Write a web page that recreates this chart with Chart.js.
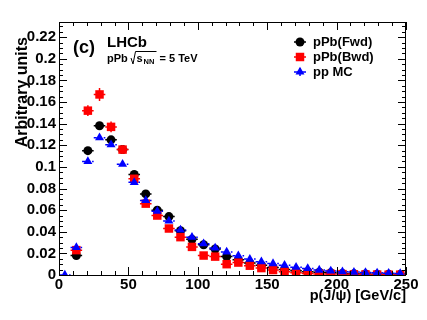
<!DOCTYPE html>
<html>
<head>
<meta charset="utf-8">
<script src="https://cdn.jsdelivr.net/npm/chart.js@4/dist/chart.umd.min.js"></script>
<style>
html, body { margin: 0; padding: 0; background: #fff; }
#wrap { width: 427px; height: 320px; position: relative; }
</style>
</head>
<body>
<div id="wrap"><canvas id="myChart"></canvas></div>
<script>
"use strict";

// p(J/psi) bins [GeV/c]
var binCenters = [4.2, 12.5, 20.8, 29.2, 37.5, 45.8, 54.2, 62.5, 70.8, 79.2,
    87.5, 95.8, 104.2, 112.5, 120.8, 129.2, 137.5, 145.8, 154.2, 162.5,
    170.8, 179.2, 187.5, 195.8, 204.2, 212.5, 220.8, 229.2, 237.5, 245.8];
var binHalfWidth = 4.17;

var fwdValues = [null, 0.018, 0.115, 0.138, 0.125, 0.116, 0.093, 0.075, 0.060, 0.054,
    0.041, 0.033, 0.028, 0.024, 0.017, 0.014, 0.011, 0.009, 0.007, 0.005,
    0.004, 0.003, 0.0025, 0.002, 0.0015, 0.0012, 0.001, 0.0008, 0.0006, 0.0005];
var fwdErrors = [0, 0.001, 0.002, 0.002, 0.002, 0.002, 0.0018, 0.0015, 0.0013, 0.0012,
    0.001, 0.001, 0.0009, 0.0008, 0.0007, 0.0006, 0.0006, 0.0005, 0.0005, 0.0004,
    0.0004, 0.0003, 0.0003, 0.0003, 0.0002, 0.0002, 0.0002, 0.0002, 0.0002, 0.0002];

var bwdValues = [null, 0.023, 0.152, 0.167, 0.137, 0.116, 0.089, 0.066, 0.055, 0.043,
    0.035, 0.026, 0.018, 0.017, 0.010, 0.0115, 0.0086, 0.0064, 0.0046, 0.003,
    0.002, 0.0015, 0.001, 0.001, 0.0008, 0.0006, 0.0005, 0.0004, 0.0003, 0.0003];
var bwdErrors = [0, 0.002, 0.005, 0.006, 0.005, 0.004, 0.003, 0.003, 0.0025, 0.002,
    0.002, 0.0018, 0.0015, 0.0014, 0.0012, 0.0012, 0.001, 0.0009, 0.0008, 0.0007,
    0.0006, 0.0005, 0.0004, 0.0004, 0.0003, 0.0003, 0.0003, 0.0002, 0.0002, 0.0002];

var mcValues = [0, 0.0255, 0.105, 0.127, 0.1205, 0.1025, 0.0857, 0.069, 0.059, 0.050,
    0.0416, 0.035, 0.029, 0.025, 0.0213, 0.0178, 0.0147, 0.0123, 0.0106, 0.009,
    0.0072, 0.006, 0.0046, 0.0038, 0.0031, 0.0027, 0.0023, 0.002, 0.0017, 0.0015];
var mcErrors = [0, 0.0008, 0.0012, 0.0012, 0.0012, 0.001, 0.001, 0.0009, 0.0008, 0.0007,
    0.0006, 0.0006, 0.0005, 0.0005, 0.0004, 0.0004, 0.0004, 0.0003, 0.0003, 0.0003,
    0.0003, 0.0002, 0.0002, 0.0002, 0.0002, 0.0002, 0.0002, 0.0002, 0.0001, 0.0001];

var seriesLabels = ['pPb(Fwd)', 'pPb(Bwd)', 'pp MC'];
var xTitle = 'p(J/\u03C8) [GeV/c]';
var yTitle = 'Arbitrary units';

var FONT = '"Liberation Sans", Arial, Helvetica, sans-serif';

function toPoints(values, errors) {
    return binCenters.map(function (x, i) {
        return { x: x, y: values[i], err: errors[i] };
    });
}

// error bars drawn under each dataset's markers
var errorBars = {
    id: 'errorBars',
    beforeDatasetDraw: function (chart, args) {
        var ds = chart.data.datasets[args.index];
        var xs = chart.scales.x, ys = chart.scales.y;
        var c = chart.ctx;
        c.save();
        c.beginPath();
        c.rect(chart.chartArea.left, chart.chartArea.top, chart.chartArea.width, chart.chartArea.height);
        c.clip();
        c.strokeStyle = ds.backgroundColor;
        c.lineWidth = 1.5;
        c.setLineDash(ds.errDash || []);
        ds.data.forEach(function (p) {
            if (p.y === null) return;
            var py = ys.getPixelForValue(p.y);
            var px = xs.getPixelForValue(p.x);
            c.beginPath();
            c.moveTo(xs.getPixelForValue(p.x - binHalfWidth), py);
            c.lineTo(xs.getPixelForValue(p.x + binHalfWidth), py);
            c.moveTo(px, ys.getPixelForValue(p.y - p.err));
            c.lineTo(px, ys.getPixelForValue(p.y + p.err));
            c.stroke();
        });
        c.restore();
    }
};

function drawMarker(c, style, x, y, r, color) {
    c.fillStyle = color;
    c.beginPath();
    if (style === 'circle') {
        c.arc(x, y, r, 0, Math.PI * 2);
    } else if (style === 'rect') {
        var s = r / Math.SQRT2;
        c.rect(x - s, y - s, 2 * s, 2 * s);
    } else {
        var w = r * Math.sqrt(3) / 2;
        c.moveTo(x, y - r);
        c.lineTo(x + w, y + r / 2);
        c.lineTo(x - w, y + r / 2);
        c.closePath();
    }
    c.fill();
}

// ROOT-like frame with inward ticks on all four sides, plus labels and legend
var rootFrame = {
    id: 'rootFrame',
    afterDraw: function (chart) {
        var c = chart.ctx;
        var a = chart.chartArea;
        var xs = chart.scales.x, ys = chart.scales.y;
        c.save();
        c.strokeStyle = '#000';
        c.lineWidth = 1;
        c.strokeRect(a.left + 0.5, a.top + 0.5, a.right - a.left - 1, a.bottom - a.top);

        c.beginPath();
        var v, px, len;
        for (v = 0; v <= 250; v += 10) {
            px = Math.round(xs.getPixelForValue(v)) + 0.5;
            len = (v % 50 === 0) ? 8 : 4;
            c.moveTo(px, a.bottom); c.lineTo(px, a.bottom - len);
            c.moveTo(px, a.top); c.lineTo(px, a.top + len);
        }
        for (var k = 0; k <= 46; k++) {
            v = k * 0.005;
            if (v > ys.max) break;
            var py = Math.round(ys.getPixelForValue(v)) + 0.5;
            len = (k % 4 === 0) ? 8 : 4;
            c.moveTo(a.left, py); c.lineTo(a.left + len, py);
            c.moveTo(a.right, py); c.lineTo(a.right - len, py);
        }
        c.stroke();

        // y title
        c.fillStyle = '#000';
        c.save();
        c.translate(26.5, 37);
        c.rotate(-Math.PI / 2);
        c.font = 'bold 16px ' + FONT;
        c.textAlign = 'right';
        c.textBaseline = 'alphabetic';
        c.fillText(yTitle, 0, 0);
        c.restore();

        // panel labels
        c.textAlign = 'left';
        c.textBaseline = 'middle';
        c.font = 'bold 18px ' + FONT;
        c.fillText('(c)', 73, 48);
        c.font = 'bold 15px ' + FONT;
        c.fillText('LHCb', 107, 43);
        c.font = 'bold 11px ' + FONT;
        c.fillText('pPb', 107, 59);
        c.lineWidth = 1;
        c.beginPath();
        c.moveTo(131, 58); c.lineTo(133, 64); c.lineTo(135.5, 51.5); c.lineTo(156.5, 51.5);
        c.stroke();
        c.fillText('s', 136.5, 59);
        c.font = 'bold 7.5px ' + FONT;
        c.fillText('NN', 143.5, 62);
        c.font = 'bold 11px ' + FONT;
        c.fillText('= 5 TeV', 159.5, 59);

        // legend
        var ys2 = [42, 57, 72];
        chart.data.datasets.forEach(function (ds, i) {
            var y = ys2[i];
            c.strokeStyle = ds.backgroundColor;
            c.lineWidth = 1.5;
            c.beginPath();
            c.moveTo(294, y); c.lineTo(306, y);
            c.moveTo(300, y - 4); c.lineTo(300, y + 4);
            c.stroke();
            drawMarker(c, ds.pointStyle, 300, y, ds.pointRadius, ds.backgroundColor);
            c.fillStyle = '#000';
            c.font = 'bold 13px ' + FONT;
            c.textBaseline = 'middle';
            c.fillText(seriesLabels[i], 313, y + 0.5);
        });
        c.restore();
    }
};

var ctx = document.querySelector('#myChart').getContext('2d');

var myChart = new Chart(ctx, {
    type: 'scatter',
    data: {
        datasets: [{
            label: seriesLabels[0],
            data: toPoints(fwdValues, fwdErrors),
            backgroundColor: '#000000',
            borderWidth: 0,
            pointStyle: 'circle',
            pointRadius: 4.5,
            order: 2
        }, {
            label: seriesLabels[1],
            data: toPoints(bwdValues, bwdErrors),
            backgroundColor: '#ff0000',
            borderWidth: 0,
            pointStyle: 'rect',
            pointRadius: 6,
            order: 1
        }, {
            label: seriesLabels[2],
            data: toPoints(mcValues, mcErrors),
            backgroundColor: '#0000ff',
            borderWidth: 0,
            pointStyle: 'triangle',
            pointRadius: 5.2,
            errDash: [3, 2],
            order: 0
        }]
    },
    options: {
        responsive: true,
        maintainAspectRatio: false,
        animation: false,
        devicePixelRatio: 1,
        layout: {
            padding: { top: 22, right: 21, left: 0, bottom: 0 }
        },
        plugins: {
            legend: { display: false },
            tooltip: { enabled: false }
        },
        scales: {
            x: {
                type: 'linear',
                min: 0,
                max: 250,
                afterFit: function (scale) { scale.height = 45; },
                grid: { display: false, drawTicks: false },
                border: { display: false },
                ticks: {
                    stepSize: 50,
                    includeBounds: false,
                    autoSkip: false,
                    maxRotation: 0,
                    padding: 1,
                    color: '#000',
                    font: { family: FONT, size: 15, weight: 'bold' }
                },
                title: {
                    display: true,
                    text: xTitle,
                    align: 'end',
                    color: '#000',
                    font: { family: FONT, size: 14.5, weight: 'bold' },
                    padding: { top: 0, bottom: 15 }
                }
            },
            y: {
                type: 'linear',
                min: 0,
                max: 0.234,
                afterFit: function (scale) { scale.width = 59; },
                grid: { display: false, drawTicks: false },
                border: { display: false },
                ticks: {
                    stepSize: 0.02,
                    includeBounds: false,
                    autoSkip: false,
                    padding: 3,
                    color: '#000',
                    font: { family: FONT, size: 15, weight: 'bold' },
                    callback: function (v) { return String(Math.round(v * 100) / 100); }
                }
            }
        }
    },
    plugins: [errorBars, rootFrame]
});
</script>
</body>
</html>
